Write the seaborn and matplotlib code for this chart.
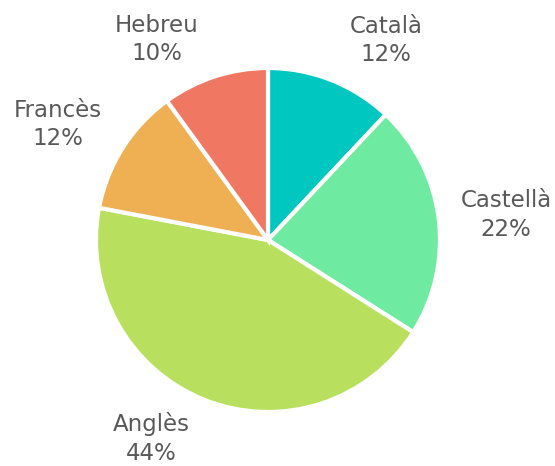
import matplotlib
matplotlib.use("Agg")
import matplotlib.pyplot as plt
import seaborn as sns

languages = ["Català", "Castellà", "Anglès", "Francès", "Hebreu"]
shares = [12, 22, 44, 12, 10]
colors = ["#00C8C0", "#6EEBA0", "#B8E05E", "#EEB052", "#F07862"]

# label anchor positions (in pie-radius units)
label_pos = [(0.686, 1.160), (1.384, 0.145), (-0.680, -1.155), (-1.221, 0.672), (-0.645, 1.166)]

sns.set_theme(style="white")
plt.rcParams["font.family"] = ["DejaVu Sans"]

W, H = 555, 466
fig = plt.figure(figsize=(W / 100, H / 100), dpi=100)
cx, cy, r = 268, 240, 172
ax = fig.add_axes([(cx - r) / W, (H - cy - r) / H, 2 * r / W, 2 * r / H])

wedges, _ = ax.pie(
    shares,
    colors=colors,
    startangle=90,
    counterclock=False,
    wedgeprops=dict(edgecolor="white", linewidth=3),
)
for n, p, (x, y) in zip(languages, shares, label_pos):
    ax.text(x, y, f"{n}\n{p}%", ha="center", va="center", multialignment="center",
            color="#595959", fontsize=16.5, linespacing=1.3, clip_on=False)
ax.set_xlim(-1, 1)
ax.set_ylim(-1, 1)
ax.set_aspect("equal")
ax.axis("off")
fig.savefig("out.png", dpi=100)
